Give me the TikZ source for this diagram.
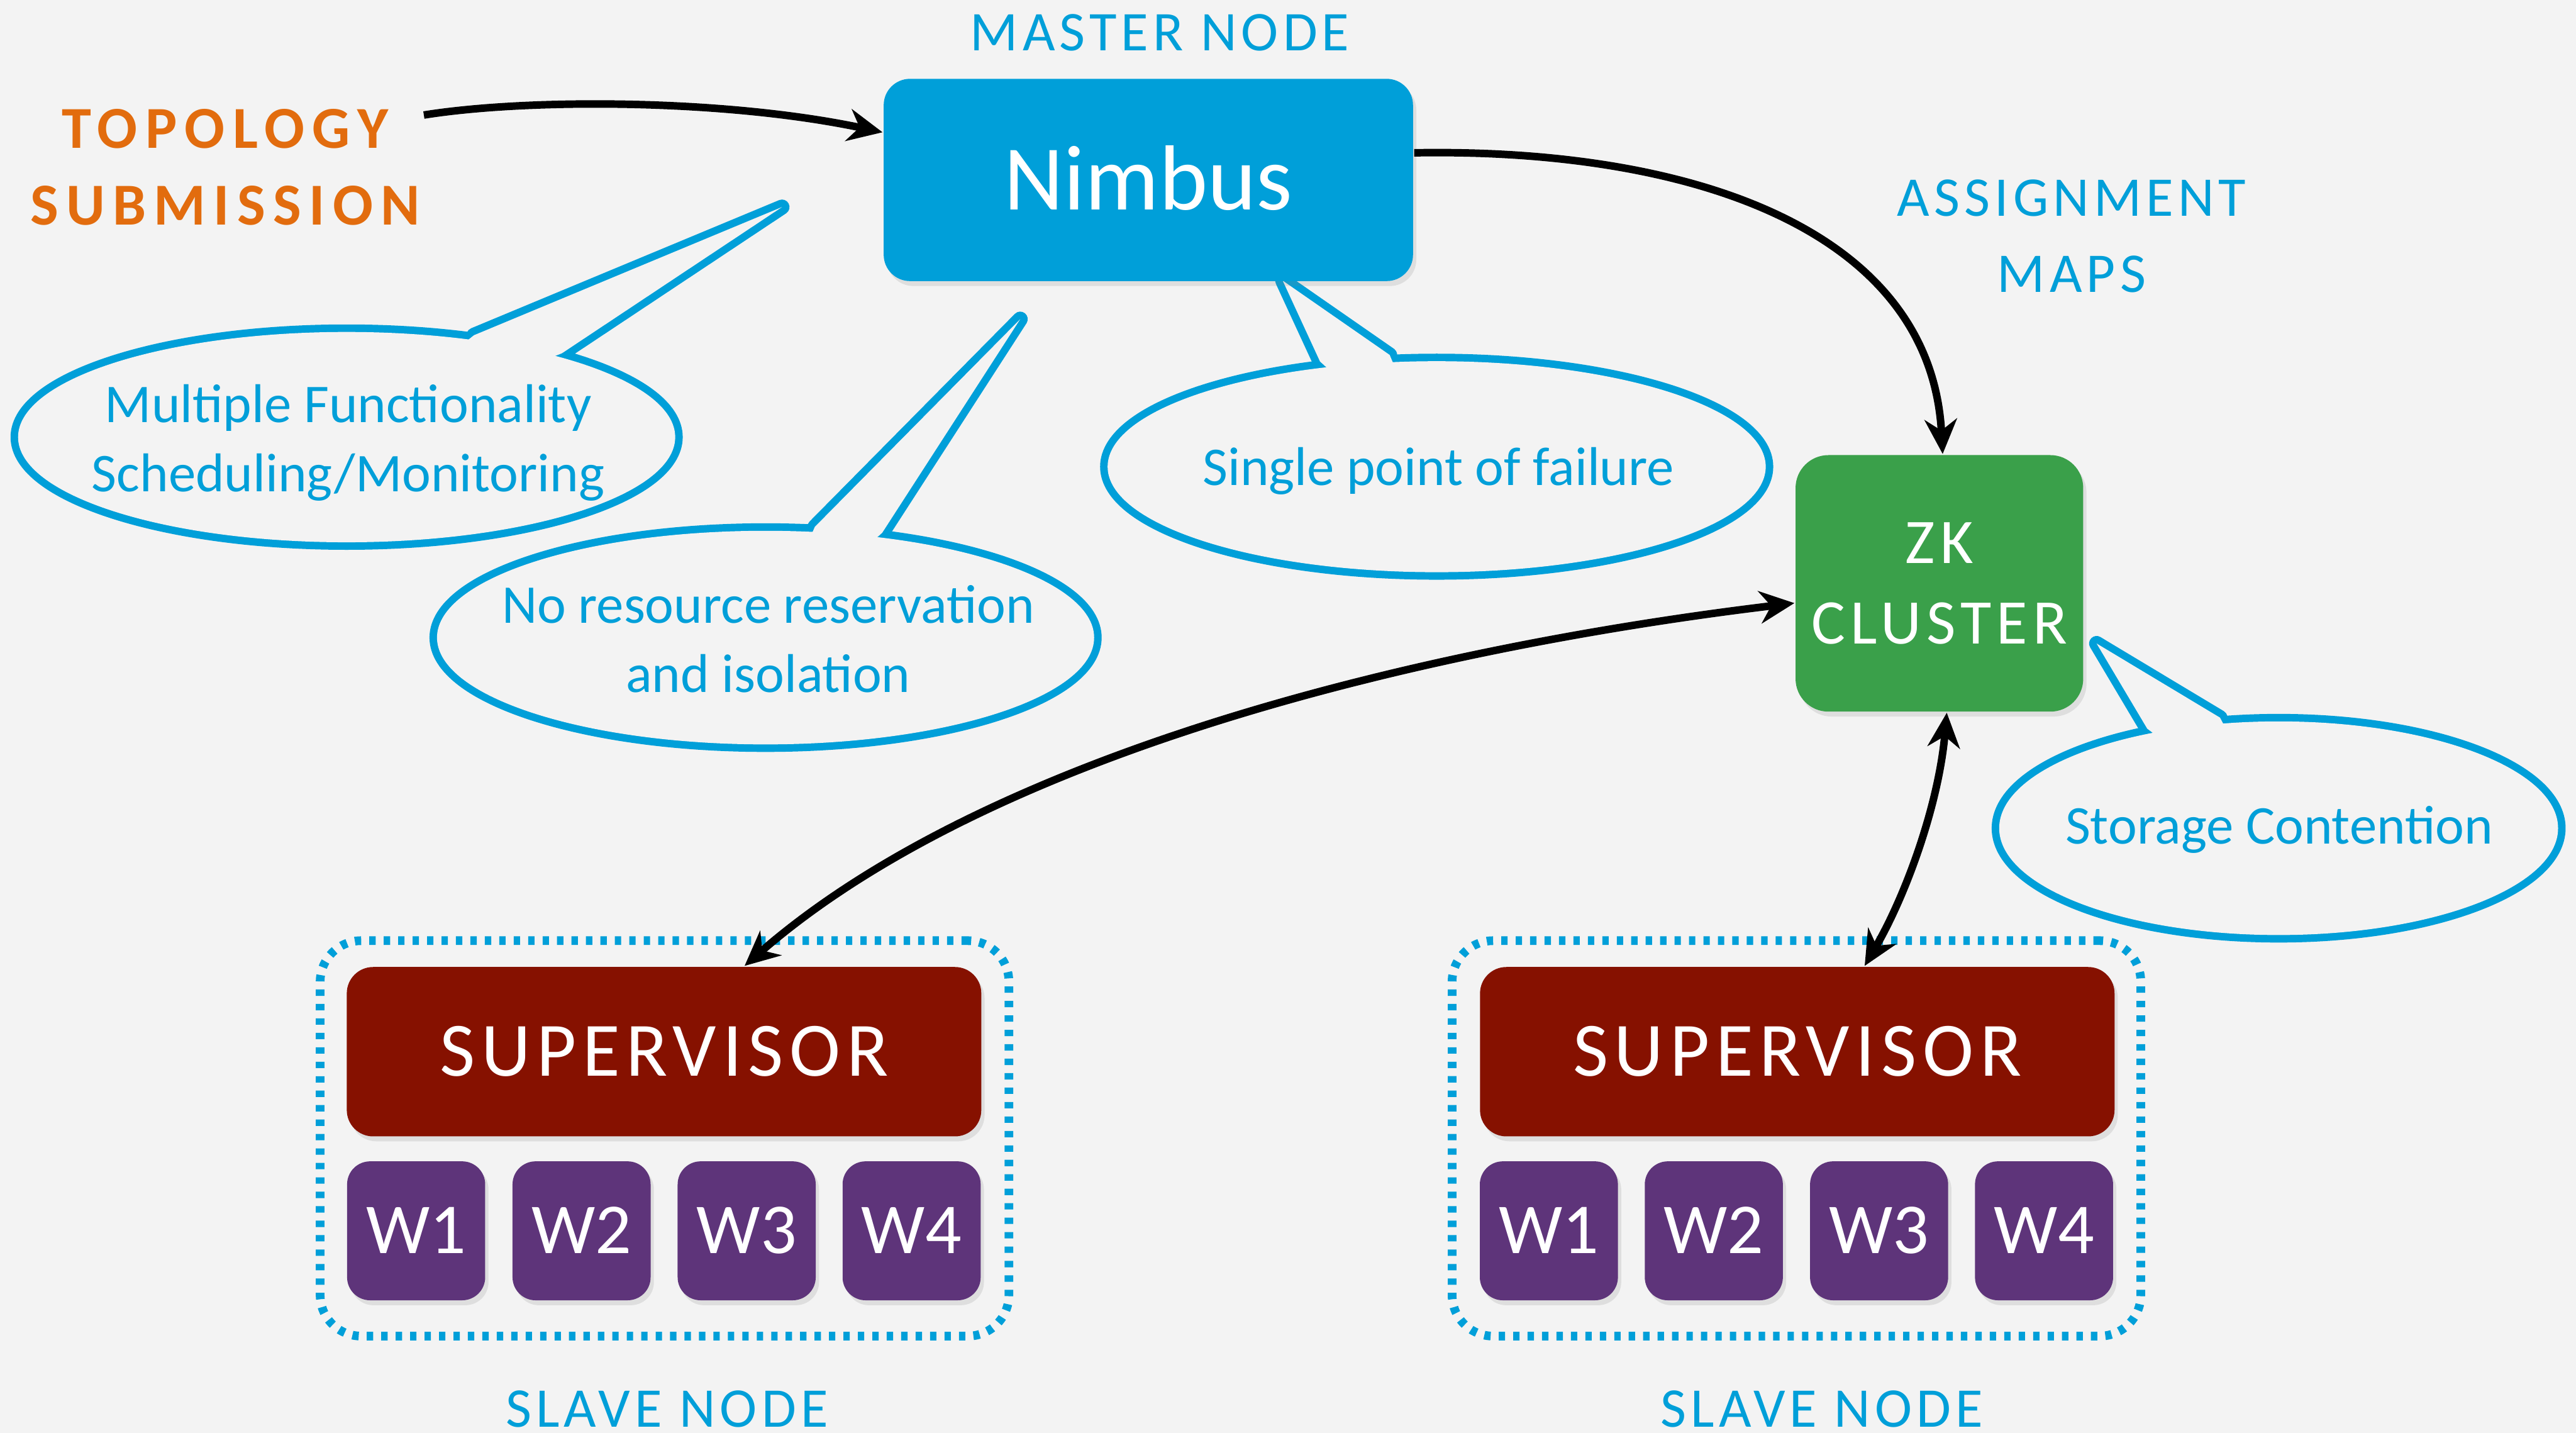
\documentclass[tikz,border=0pt]{standalone}
\usepackage{fontspec}
\setmainfont{Carlito}
\newfontfamily\capsf[LetterSpace=8]{Carlito}
\newfontfamily\topof[LetterSpace=13]{Carlito}
\usetikzlibrary{arrows.meta,shadows}
\definecolor{bg}{HTML}{F3F3F3}
\definecolor{cblue}{HTML}{009FD9}
\definecolor{corange}{HTML}{E26C0E}
\definecolor{cgreen}{HTML}{3AA04A}
\definecolor{cred}{HTML}{861100}
\definecolor{cpurple}{HTML}{5E347A}
\tikzset{
  box/.style={inner sep=0pt, text=white, rounded corners=0.16cm,
    drop shadow={shadow xshift=0.02cm, shadow yshift=-0.03cm, opacity=0.18}},
  supbox/.style={box, fill=cred, minimum width=3.86cm, minimum height=1.03cm,
    font=\capsf\fontsize{13.3}{16}\selectfont, text height=0.295cm, text depth=0pt},
  wbox/.style={box, fill=cpurple, minimum width=0.84cm, minimum height=0.845cm,
    rounded corners=0.14cm, font=\fontsize{12.4}{15}\selectfont, text height=0.275cm, text depth=0pt},
  frame/.style={draw=cblue, line width=1.5pt, dash pattern=on 1.1pt off 1.4pt,
    rounded corners=0.25cm, minimum width=4.19cm, minimum height=2.405cm, inner sep=0pt},
  lbl/.style={text=cblue, inner sep=0pt, font=\capsf\fontsize{9.7}{13.1}\selectfont},
  ctext/.style={text=cblue, inner sep=0pt, align=center, font=\fontsize{9.45}{12}\selectfont},
  bubble/.style={draw=cblue, line width=2.6pt, line join=round, line cap=round},
  arr/.style={line width=1.3pt, -{Stealth[length=6pt, width=5.6pt]}},
  darr/.style={line width=1.3pt, {Stealth[length=6pt, width=5.6pt]}-{Stealth[length=6pt, width=5.6pt]}}
}
\begin{document}
\begin{tikzpicture}[x=0.01cm, y=-0.01cm]
\fill[bg] (0,0) rectangle (1568,872);
\useasboundingbox (0,0) rectangle (1568,872);

% ---- callouts ----
\draw[bubble] (288.5,204) -- (476,126) -- (342,215);
\draw[bubble] (211,266) ellipse [x radius=200, y radius=64];
\fill[bg] (288.5,204) -- (476,126) -- (342,215) -- (211,266) -- cycle;
\fill[bg] (211,266) ellipse [x radius=200, y radius=64];

\draw[bubble] (496,320.6) -- (621,194.2) -- (537,324.2);
\draw[bubble] (466,388) ellipse [x radius=200, y radius=65];
\fill[bg] (496,320.6) -- (621,194.2) -- (537,324.2) -- (466,388) -- cycle;
\fill[bg] (466,388) ellipse [x radius=200, y radius=65];

\draw[bubble] (803.5,220) -- (780.8,170.8) -- (845.9,216);
\draw[bubble] (874.5,284) ellipse [x radius=200.3, y radius=64.2];
\fill[bg] (803.5,220) -- (780.8,170.8) -- (845.9,216) -- (874.5,284) -- cycle;
\fill[bg] (874.5,284) ellipse [x radius=200.3, y radius=64.2];

\draw[bubble] (1307,443.4) -- (1276.2,391.6) -- (1351.3,436.7);
\draw[bubble] (1387,504) ellipse [x radius=170.1, y radius=65];
\fill[bg] (1307,443.4) -- (1276.2,391.6) -- (1351.3,436.7) -- (1387,504) -- cycle;
\fill[bg] (1387,504) ellipse [x radius=170.1, y radius=65];

\node[ctext] (c1) at (212,269.5) {Multiple Functionality\\Scheduling/Monitoring};
\node[ctext] (c2) at (467.6,389) {No resource reservation\\and isolation};
\node[ctext] (c3) at (875.6,286.5) {Single point of failure};
\node[ctext] (c4) at (1387.3,505) {Storage Contention};

% ---- slave node frames ----
\node[frame] (f1) at (404.5,692.75) {};
\node[frame] (f2) at (1093.5,692.75) {};

% ---- boxes ----
\node[box, fill=cblue, minimum width=3.22cm, minimum height=1.23cm,
  font=\fontsize{16}{19}\selectfont, text height=0.36cm, text depth=0pt] (nimbus) at (699,109.5) {Nimbus};
\node[box, fill=cgreen, minimum width=1.75cm, minimum height=1.56cm, rounded corners=0.2cm,
  align=center, font=\capsf\fontsize{11}{14}\selectfont] (zk) at (1180.5,355) {ZK\\CLUSTER};

\node[supbox] (sup1) at (404.2,640) {SUPERVISOR};
\node[supbox] (sup2) at (1094,640) {SUPERVISOR};

\node[wbox] (w11) at (253.3,749) {W1};
\node[wbox] (w12) at (354,749) {W2};
\node[wbox] (w13) at (454.5,749) {W3};
\node[wbox] (w14) at (554.9,749) {W4};
\node[wbox] (w21) at (942.8,749) {W1};
\node[wbox] (w22) at (1043.2,749) {W2};
\node[wbox] (w23) at (1143.8,749) {W3};
\node[wbox] (w24) at (1244.2,749) {W4};

% ---- labels ----
\node[lbl, anchor=base] (master) at (706,31) {MASTER NODE};
\node[lbl, align=center] (assign) at (1261,143.75) {ASSIGNMENT\\MAPS};
\node[lbl, anchor=base] (slave1) at (406,868.3) {SLAVE NODE};
\node[lbl, anchor=base] (slave2) at (1109,868.3) {SLAVE NODE};
\node[text=corange, inner sep=0pt, align=center,
  font=\topof\bfseries\fontsize{10.3}{13.3}\selectfont] (topo) at (137,101.9) {TOPOLOGY\\SUBMISSION};

% ---- connectors ----
\coordinate (topoEnd) at (258,70);
\draw[arr] (topoEnd) .. controls (320,60) and (440,60) .. ([yshift=0.29cm]nimbus.west);
\draw[arr] ([yshift=0.165cm]nimbus.east) .. controls (1030,90) and (1175,140) .. ([xshift=0.02cm]zk.north);
\draw[darr] ([yshift=-0.12cm]zk.west) .. controls (860,395) and (600,460) .. ([xshift=0.49cm]sup1.north);
\draw[darr] ([xshift=0.045cm]zk.south) .. controls (1180,490) and (1160,545) .. ([xshift=0.41cm]sup2.north);
\end{tikzpicture}
\end{document}
